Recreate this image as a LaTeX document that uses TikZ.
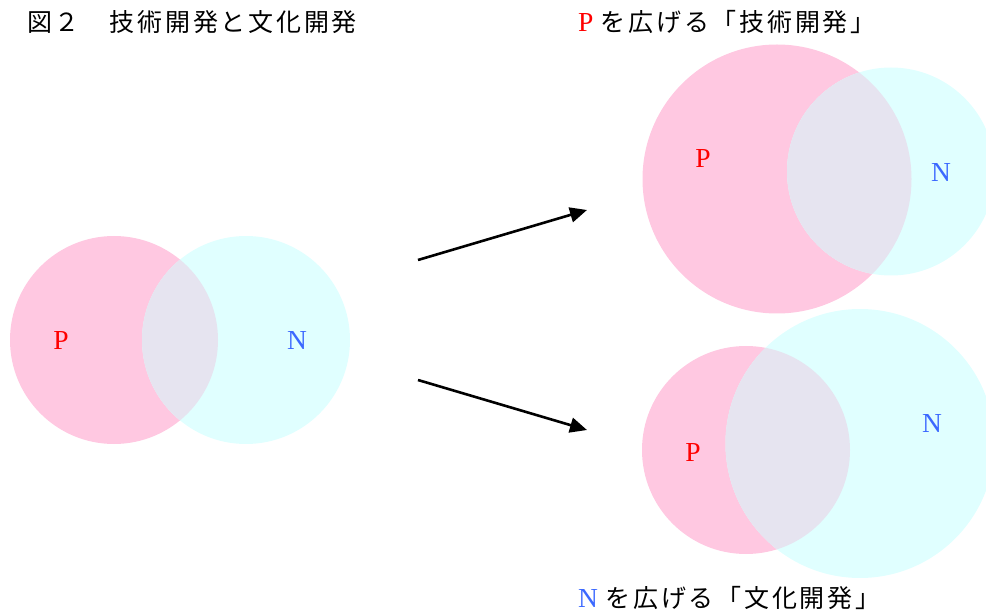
\documentclass[tikz,border=0pt]{standalone}
\usepackage{fontspec}
\setmainfont{Liberation Serif}
\newfontfamily\jp[LetterSpace=11]{Noto Sans CJK JP}
\usetikzlibrary{arrows.meta}
\definecolor{pinkc}{RGB}{255,200,225}
\definecolor{cyanc}{RGB}{224,255,255}
\definecolor{overc}{RGB}{230,228,240}
\definecolor{nblue}{RGB}{60,105,255}
\tikzset{
  pfill/.style={fill=pinkc, draw=none},
  cfill/.style={fill=cyanc, draw=none},
  ofill/.style={fill=overc, draw=none},
  plabel/.style={text=red, font=\fontsize{27.5}{27.5}\selectfont, inner sep=0pt},
  nlabel/.style={text=nblue, font=\fontsize{27.5}{27.5}\selectfont, inner sep=0pt},
  captext/.style={font=\fontsize{25}{25}\selectfont, inner sep=0pt, anchor=west},
  arr/.style={line width=2.6pt, -{Triangle[length=17pt, width=15pt]}}
}
\begin{document}
\begin{tikzpicture}[x=1pt, y=-1pt]
\useasboundingbox (0,0) rectangle (986,612);
\begin{scope}
\clip (0,0) rectangle (986,612);
% left pair
\fill[pfill] (114,340) circle (104);
\fill[cfill] (246,340) circle (104);
\begin{scope}
\clip (114,340) circle (104);
\fill[ofill] (246,340) circle (104);
\end{scope}
% top right pair
\fill[pfill] (777,179) circle (134.5);
\fill[cfill] (891,171.5) circle (104);
\begin{scope}
\clip (777,179) circle (134.5);
\fill[ofill] (891,171.5) circle (104);
\end{scope}
% bottom right pair
\fill[pfill] (746,450) circle (104);
\fill[cfill] (860,443.5) circle (134.5);
\begin{scope}
\clip (746,450) circle (104);
\fill[ofill] (860,443.5) circle (134.5);
\end{scope}
\end{scope}
% labels
\node[plabel] (pl) at (61,340) {P};
\node[nlabel] (nl) at (297,340) {N};
\node[plabel] (pt) at (703,158) {P};
\node[nlabel] (nt) at (941,172) {N};
\node[plabel] (pb) at (693,452) {P};
\node[nlabel] (nb) at (932,423) {N};
% captions
\node[captext] (title) at (27,22) {\jp 図２\hspace{1.2em}技術開発と文化開発};
\node[captext] (captop) at (578,22) {\textcolor{red}{\fontsize{27.5}{27.5}\selectfont P}\hspace{0.3em}{\jp を広げる「技術開発」}};
\node[captext] (capbot) at (578,598) {\textcolor{nblue}{\fontsize{27.5}{27.5}\selectfont N}\hspace{0.3em}{\jp を広げる「文化開発」}};
% arrows
\coordinate (a1s) at (418,260);
\coordinate (a1e) at (587,210);
\coordinate (a2s) at (418,380);
\coordinate (a2e) at (587,430);
\draw[arr] (a1s) -- (a1e);
\draw[arr] (a2s) -- (a2e);
\end{tikzpicture}
\end{document}
